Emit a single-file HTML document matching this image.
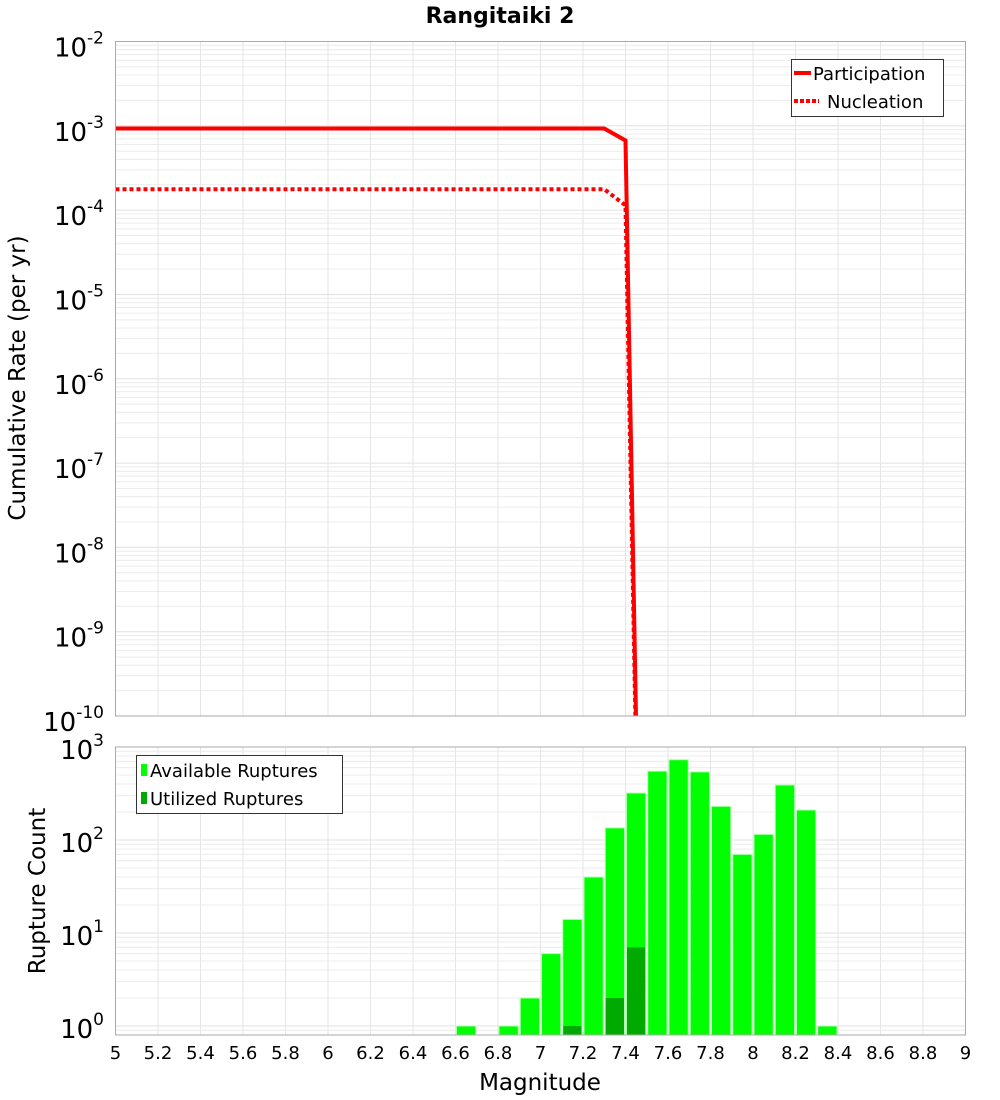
<!DOCTYPE html>
<html><head><meta charset="utf-8"><style>
body{margin:0;background:#fff;}
svg{display:block;font-family:"DejaVu Sans","Liberation Sans",sans-serif;}
</style></head><body>
<svg id="c" width="1000" height="1100" xmlns="http://www.w3.org/2000/svg">
<text x="500" y="23" text-anchor="middle" font-size="22" font-weight="bold">Rangitaiki 2</text>
<g id="topPlot"></g>
<g id="botPlot"></g>
<text transform="translate(25,378) rotate(-90)" text-anchor="middle" font-size="23">Cumulative Rate (per yr)</text>
<text transform="translate(45,891) rotate(-90)" text-anchor="middle" font-size="23">Rupture Count</text>
<text x="540" y="1090" text-anchor="middle" font-size="23">Magnitude</text>
</svg>
<script>
const partMags=[5.0,7.3,7.4,7.5];
const partRates=[9.3e-4,9.3e-4,6.7e-4,1e-17];
const nuclMags=[5.0,7.3,7.4,7.5];
const nuclRates=[1.77e-4,1.77e-4,1.14e-4,1e-17];
const binMags=[6.6,6.8,6.9,7.0,7.1,7.2,7.3,7.4,7.5,7.6,7.7,7.8,7.9,8.0,8.1,8.2,8.3];
const available=[1,1,2,6,14,40,135,320,550,730,540,230,70,115,390,210,1];
const utilMags=[7.1,7.3,7.4];
const utilized=[1,2,7];
const xTicks=[5,5.2,5.4,5.6,5.8,6,6.2,6.4,6.6,6.8,7,7.2,7.4,7.6,7.8,8,8.2,8.4,8.6,8.8,9];
const topExps=[-2,-3,-4,-5,-6,-7,-8,-9,-10];
const botExps=[3,2,1,0];

const NS="http://www.w3.org/2000/svg";
const L=115.5,R=965.5,T1=41.5,B1=716,T2=747,B2=1035;
const X=m=>L+(m-5)/4*(R-L);
const Y1=v=>T1+(-2-Math.log10(v))*(B1-T1)/8;
const Y2=v=>1026-Math.log10(v)*93;
function mk(p,tag,a){const e=document.createElementNS(NS,tag);for(const k in a)e.setAttribute(k,a[k]);p.appendChild(e);return e;}
const gTop=document.getElementById('topPlot'),gBot=document.getElementById('botPlot');
const defs=mk(document.getElementById('c'),'defs',{});
const c1=mk(defs,'clipPath',{id:'cp1'});mk(c1,'rect',{x:L,y:T1,width:R-L,height:B1-T1});
const c2=mk(defs,'clipPath',{id:'cp2'});mk(c2,'rect',{x:L,y:T2,width:R-L,height:B2-T2});
function grid(g,yf,lo,hi,yt,yb){
 for(let e=lo;e<hi;e++)for(let k=1;k<10;k++){const y=yf(k*Math.pow(10,e));if(y<yt-0.1||y>yb+0.1)continue;
  const ln=mk(g,'line',{x1:L,x2:R,y1:y,y2:y,stroke:k==1?'#e0e0e0':'#ececec','stroke-width':1});
  
  }
 for(const t of xTicks){const ln=mk(g,'line',{x1:X(t),x2:X(t),y1:yt,y2:yb,stroke:'#e6e6e6'});
  
  }
}
grid(gTop,Y1,-10,-1,T1,B1);
grid(gBot,Y2,-1,4,T2,B2);
function line(ms,vs,dash,name){
 const pts=ms.map((m,i)=>X(m)+','+Y1(vs[i])).join(' ');
 const p=mk(gTop,'polyline',{points:pts,fill:'none',stroke:'#ff0000','stroke-width':4,'clip-path':'url(#cp1)'});
 if(dash)p.setAttribute('stroke-dasharray',dash);
 
 
}
line(nuclMags,nuclRates,'4,3','nucleation-line');
line(partMags,partRates,null,'participation-line');
const f1=mk(gTop,'rect',{x:L,y:T1,width:R-L,height:B1-T1,fill:'none',stroke:'#aaa'});


function expLabel(g,y,e,dy){
 const t=mk(g,'text',{x:104,y:y+dy,'text-anchor':'end','font-size':26});
 
 
 t.appendChild(document.createTextNode('10'));
 const s=mk(t,'tspan',{dy:-13,'font-size':17});s.textContent=String(e);
}
topExps.forEach(e=>expLabel(gTop,Y1(Math.pow(10,e)),e,15));
const lg=mk(gTop,'g',{});


mk(lg,'rect',{x:791.5,y:59.5,width:152,height:57,fill:'#fff',stroke:'#333'});
mk(lg,'line',{x1:794,x2:811,y1:73,y2:73,stroke:'#f00','stroke-width':4});
mk(lg,'line',{x1:794,x2:819,y1:101,y2:101,stroke:'#f00','stroke-width':4,'stroke-dasharray':'4,2'});
let t=mk(lg,'text',{x:813,y:80,'font-size':18});t.textContent='Participation';


t=mk(lg,'text',{x:827,y:108,'font-size':18});t.textContent='Nucleation';


const bw=X(5.1)-X(5);
binMags.forEach((m,i)=>{const y=Y2(available[i]);
 const r=mk(gBot,'rect',{x:X(m)+1,y:y,width:bw-2,height:B2-y,fill:'#00ff00',stroke:'#b0ffb0','stroke-width':1,'clip-path':'url(#cp2)'});
 
 });
utilMags.forEach((m,i)=>{const y=Y2(utilized[i]);
 const r=mk(gBot,'rect',{x:X(m)+1.5,y:y,width:bw-3,height:B2-y,fill:'#00aa00','clip-path':'url(#cp2)'});
 
 });
const f2=mk(gBot,'rect',{x:L,y:T2,width:R-L,height:B2-T2,fill:'none',stroke:'#aaa'});


botExps.forEach(e=>expLabel(gBot,Y2(Math.pow(10,e)),e,12));
xTicks.forEach(v=>{const tt=mk(gBot,'text',{x:X(v),y:1059,'text-anchor':'middle','font-size':18});
 tt.textContent=String(Math.round(v*10)/10);
 
 });
const lb=mk(gBot,'g',{});


mk(lb,'rect',{x:136.5,y:755.5,width:206,height:58,fill:'#fff',stroke:'#333'});
mk(lb,'rect',{x:141,y:764,width:6,height:12,fill:'#00ff00'});
mk(lb,'rect',{x:141,y:792,width:6,height:12,fill:'#00aa00'});
t=mk(lb,'text',{x:150,y:777,'font-size':18});t.textContent='Available Ruptures';


t=mk(lb,'text',{x:150,y:805,'font-size':18});t.textContent='Utilized Ruptures';


</script>
</body></html>
